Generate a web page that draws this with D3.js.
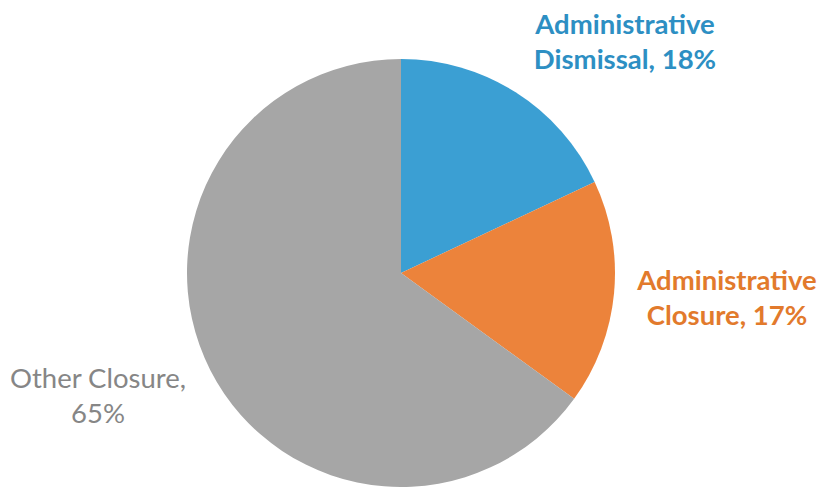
<!DOCTYPE html>
<html lang="en">
<head>
<meta charset="utf-8">
<style>
  body { margin: 0; background: #fff; }
  svg { display: block; font-family: Lato, "Open Sans", sans-serif; }
</style>
<title>Closure types</title>
</head>
<body>
<script src="https://cdn.jsdelivr.net/npm/d3@7"></script>
<script>
// slice data, clockwise from 12 o'clock
var categories = ["Administrative Dismissal", "Administrative Closure", "Other Closure"];
var shares = [18, 17, 65];
var labelLines = [
  ["Administrative", "Dismissal, 18%"],
  ["Administrative", "Closure, 17%"],
  ["Other Closure,", "65%"]
];

var width = 824, height = 487;
var cx = 401, cy = 273, radius = 214;

var fills = ["#3b9fd3", "#ec833b", "#a6a6a6"];
var textColors = ["#2d8fc3", "#e27a2c", "#868686"];
var weights = ["bold", "bold", "normal"];
// label block anchor points (centre x, first baseline y)
var labelPos = [[625, 34], [727, 290], [98, 388]];

var svg = d3.select("body").append("svg")
    .attr("width", width)
    .attr("height", height);

var pie = d3.pie().sort(null).value(function(d) { return d; });
var arc = d3.arc().innerRadius(0).outerRadius(radius);

var g = svg.append("g").attr("transform", "translate(" + cx + "," + cy + ")");

g.selectAll("path")
    .data(pie(shares))
    .enter().append("path")
    .attr("d", arc)
    .attr("fill", function(d, i) { return fills[i]; });

// labels
var labels = svg.selectAll("text.lbl")
    .data(categories)
    .enter().append("text")
    .attr("class", "lbl")
    .attr("text-anchor", "middle")
    .attr("font-size", "27.5px")
    .attr("font-weight", function(d, i) { return weights[i]; })
    .attr("fill", function(d, i) { return textColors[i]; });

labels.each(function(d, i) {
  var t = d3.select(this);
  labelLines[i].forEach(function(line, j) {
    t.append("tspan")
      .attr("x", labelPos[i][0])
      .attr("y", labelPos[i][1] + j * 35)
      .text(line);
  });
});
</script>
</body>
</html>
